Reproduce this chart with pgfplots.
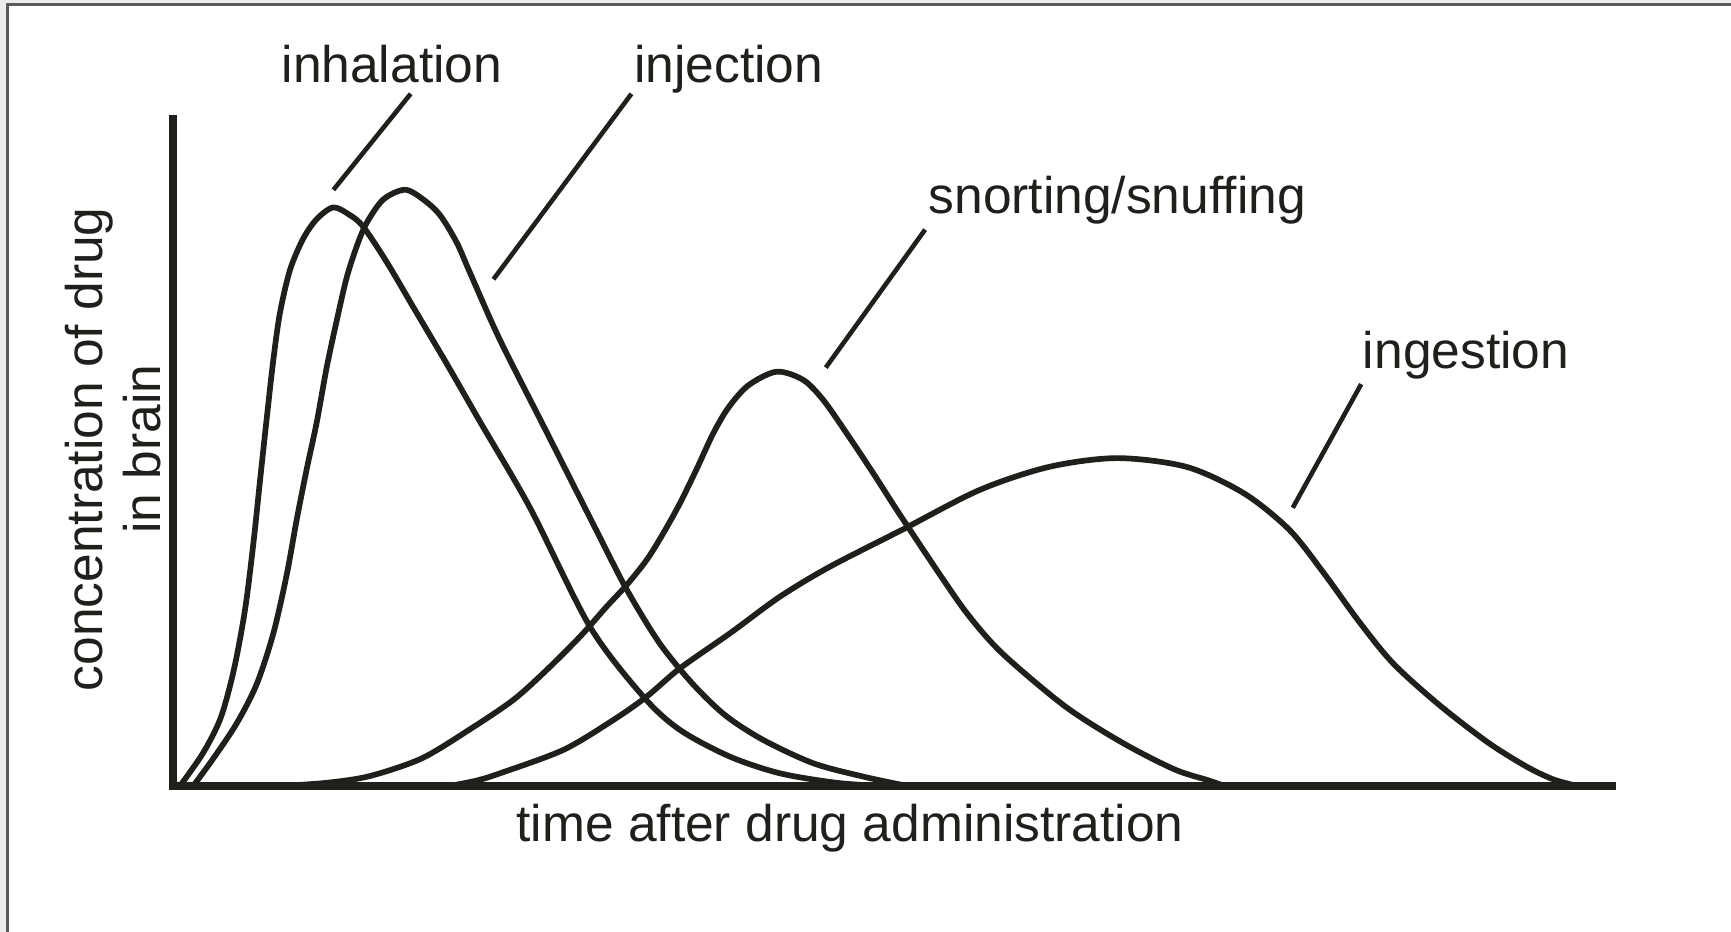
\documentclass[border=0pt]{standalone}
\usepackage{fontspec}
\setmainfont{Liberation Sans}
\usepackage{pgfplots}
\pgfplotsset{compat=1.18}
\definecolor{ink}{RGB}{30,32,28}
\definecolor{framegray}{RGB}{88,92,92}
\definecolor{outgray}{RGB}{236,237,236}
\begin{document}
\begin{tikzpicture}[
  lbl/.style={font=\fontsize{14}{16}\selectfont, text=ink, inner sep=0pt},
  lead/.style={ink, line width=1.25pt},
  crv/.style={ink, line width=1.55pt, smooth, tension=0.5, mark=none, line join=round},
]
\path[use as bounding box] (-47.1pt,-39.6pt) rectangle (423.3pt,213.6pt);
\fill[outgray] (-47.1pt,-39.6pt) rectangle (423.3pt,213.6pt);
\fill[white] (-45.15pt,-39.6pt) rectangle (423.3pt,212.25pt);
\draw[framegray, line width=0.8pt] (-45.15pt,-39.6pt) -- (-45.15pt,212.25pt) -- (423.3pt,212.25pt);
\begin{axis}[
  at={(0pt,0pt)}, anchor=south west,
  scale only axis, width=390.9pt, height=181.2pt,
  xmin=0, xmax=1303, ymin=0, ymax=604,
  axis lines=left,
  axis line style={-, line width=2.1pt, ink, line cap=rect},
  xtick=\empty, ytick=\empty,
  clip=false,
]
% inhalation
\addplot[crv] coordinates {
(6,0) (27,30) (43,62) (55,106) (65,160) (72.5,219.6)
(78.5,276.3) (84.6,332.9) (90.6,386.1) (96.6,428.6) (105.7,467.5)
(117.7,495.9) (129.9,513.5) (144.9,524.1) (160,517.1) (172.1,506.5)
(193.3,474.6) (220.4,428.6) (247.6,382.6) (277.8,330) (323.1,252)
(377.4,144.3) (425.7,81) (458.9,50.8) (504.2,26.6) (549.5,11.5)
(600,3) (640,0)};
% injection
\addplot[crv] coordinates {
(18,0) (36.2,24.9) (57.4,56.7) (75.5,92.2) (90.6,138.2) (102.7,191.3)
(111.7,240.9) (120.8,286.9) (129.9,329.4) (138.9,379) (148,421.5)
(157,460.4) (166.1,488.7) (175.1,510) (190.2,531.3) (209.8,540.1)
(226.4,531.3) (241.6,517.1) (256.7,492.3) (268.7,465) (295.9,404)
(338.2,320.5) (383.5,231) (410.7,178) (440,130) (470,93) (500,64)
(534.4,41.7) (579.7,20.6) (625,8.5) (665,0)};
% snorting/snuffing
\addplot[crv] coordinates {
(98,0) (140,3) (178,9) (225,25) (268.7,51.4) (308,78) (338.2,105.1)
(368.4,135.3) (392.5,162.5) (410.6,182) (428.8,204.8) (443.8,228.9)
(458.9,256.1) (474,287) (489.1,319.5) (503,343) (521,363)
(546.5,375.3) (570.6,367.8) (588.7,349.7) (609.9,319.5) (634,283.3)
(656.7,248) (694,192) (720,155) (751,120) (808,72) (860,39) (907,15)
(938,5) (952,0)};
% ingestion
\addplot[crv] coordinates {
(250,0) (275,5) (295.9,11.5) (353.3,32.7) (398.6,59.8) (428.8,81)
(458.9,106.6) (504.2,138.3) (549.5,171.5) (594.8,198.7) (660,232)
(730,268) (793,289) (855,297) (918,289) (970,265) (1011,232) (1042,193)
(1074,149) (1105,111) (1146,74) (1190,40) (1225,18) (1250,6) (1272,0)};
% leader lines
\draw[lead] (axis cs:215,627) -- (axis cs:145,540);
\draw[lead] (axis cs:415,627) -- (axis cs:290,459);
\draw[lead] (axis cs:681,504) -- (axis cs:591,379);
\draw[lead] (axis cs:1076,364) -- (axis cs:1014,252);
% labels
\node[lbl, anchor=base] at (axis cs:198,637) {inhalation};
\node[lbl, anchor=base] at (axis cs:503,637) {injection};
\node[lbl, anchor=base] at (axis cs:855,519) {snorting/snuffing};
\node[lbl, anchor=base] at (axis cs:1171,378) {ingestion};
\node[lbl, anchor=base] at (axis cs:613,-50) {time after drug administration};
\node[lbl, anchor=base, rotate=90] at (axis cs:-64,305) {concentration of drug};
\node[lbl, anchor=base, rotate=90] at (axis cs:-12,305) {in brain};
\end{axis}
\end{tikzpicture}
\end{document}
